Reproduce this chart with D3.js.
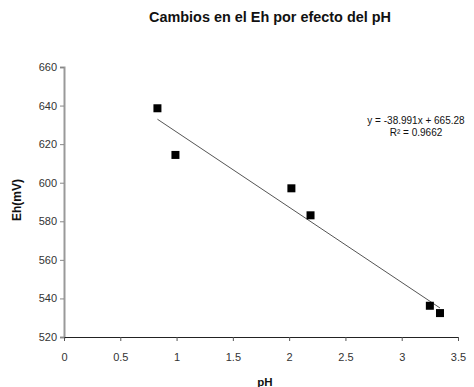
<!DOCTYPE html>
<html>
<head>
<meta charset="utf-8">
<script src="https://cdn.jsdelivr.net/npm/d3@7"></script>
<style>
  body { margin: 0; background: #fff; }
  text { font-family: "Liberation Sans", Arial, sans-serif; }
</style>
</head>
<body>
<div id="chart"></div>
<script>
var width = 474, height = 387

// data
var ph = [0.83, 0.99, 2.02, 2.19, 3.25, 3.34]
var eh = [638.6, 614.4, 597.1, 583.1, 536.2, 532.4]
var xTicks = [0, 0.5, 1, 1.5, 2, 2.5, 3, 3.5]
var yTicks = [520, 540, 560, 580, 600, 620, 640, 660]
var slope = -38.991, intercept = 665.28, r2 = 0.9662

var x = d3.scaleLinear().domain([0, 3.5]).range([64, 458])
var y = d3.scaleLinear().domain([520, 660]).range([337, 67])

var svg = d3.select('#chart').append('svg')
    .attr('width', width).attr('height', height)

svg.append('rect').attr('width', width).attr('height', height).attr('fill', '#fff')

// title
svg.append('text')
    .attr('x', 270).attr('y', 22)
    .attr('text-anchor', 'middle')
    .attr('font-size', 14).attr('font-weight', 'bold')
    .attr('fill', '#111')
    .attr('textLength', 242).attr('lengthAdjust', 'spacingAndGlyphs')
    .text('Cambios en el Eh por efecto del pH')

// y axis
var yAxis = svg.append('g')
    .attr('transform', 'translate(64,0)')
    .call(d3.axisLeft(y).tickValues(yTicks).tickSize(4).tickFormat(d3.format('d')))
yAxis.select('.domain').attr('stroke', '#999').attr('stroke-width', 2)
yAxis.selectAll('.tick line').attr('stroke', '#888')
yAxis.selectAll('.tick text').attr('font-size', 11).attr('fill', '#333')
    .attr('font-family', '"Liberation Sans", Arial, sans-serif').attr('x', -7)

// x axis
var xAxis = svg.append('g')
    .attr('transform', 'translate(0,337)')
    .call(d3.axisBottom(x).tickValues(xTicks).tickSize(4).tickSizeOuter(0)
      .tickFormat(function(d){ return String(d) }))
xAxis.select('.domain').attr('stroke', '#222')
xAxis.selectAll('.tick line').attr('stroke', '#555')
xAxis.selectAll('.tick text').attr('font-size', 11).attr('fill', '#333')
    .attr('font-family', '"Liberation Sans", Arial, sans-serif').attr('y', 16)

// axis titles
svg.append('text')
    .attr('transform', 'translate(21,200) rotate(-90)')
    .attr('text-anchor', 'middle')
    .attr('font-size', 12).attr('font-weight', 'bold').attr('fill', '#111')
    .text('Eh(mV)')

svg.append('text')
    .attr('x', 265).attr('y', 386)
    .attr('text-anchor', 'middle')
    .attr('font-size', 11.5).attr('font-weight', 'bold').attr('fill', '#111')
    .text('pH')

// trend line
var x0 = d3.min(ph), x1 = d3.max(ph)
svg.append('line')
    .attr('x1', x(x0)).attr('y1', y(slope * x0 + intercept))
    .attr('x2', x(x1)).attr('y2', y(slope * x1 + intercept))
    .attr('stroke', '#555').attr('stroke-width', 1)

// points
var s = 8
svg.selectAll('rect.pt').data(ph).enter().append('rect')
    .attr('class', 'pt')
    .attr('x', function(d){ return x(d) - s / 2 })
    .attr('y', function(d, i){ return y(eh[i]) - s / 2 })
    .attr('width', s).attr('height', s)
    .attr('fill', '#000')

// equation
svg.append('text')
    .attr('x', 416).attr('y', 124)
    .attr('text-anchor', 'middle')
    .attr('font-size', 10).attr('fill', '#111')
    .text('y = ' + slope + 'x + ' + intercept)

svg.append('text')
    .attr('x', 416).attr('y', 136)
    .attr('text-anchor', 'middle')
    .attr('font-size', 10).attr('fill', '#111')
    .text('R² = ' + r2)
</script>
</body>
</html>
